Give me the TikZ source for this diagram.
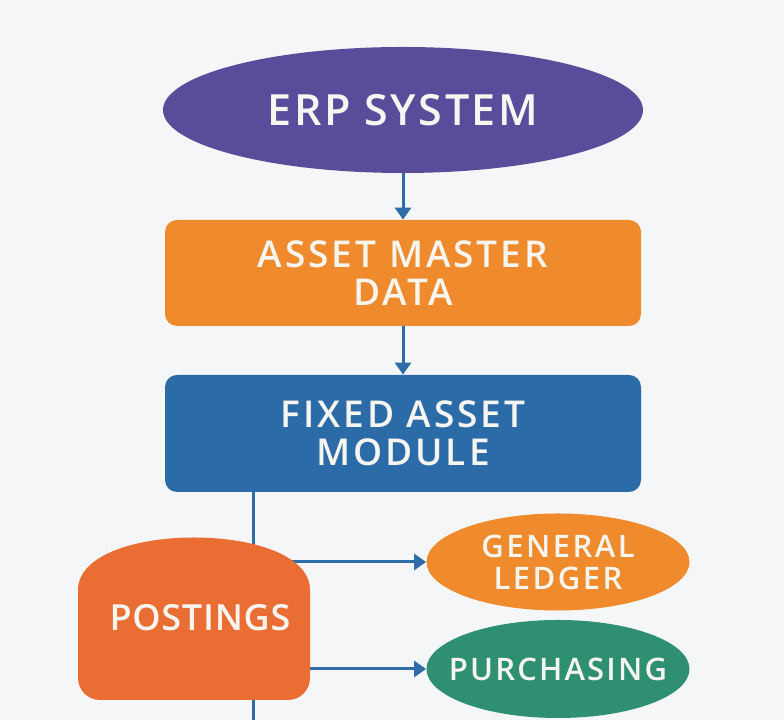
\documentclass[tikz,border=0pt]{standalone}
\usepackage{fontspec}
\setmainfont{Open Sans}
\newfontfamily\labelfont{Open Sans}[UprightFont={* Semibold}]
% corpo, interlinea, spaziatura
\newcommand\labelsize[3]{\labelfont\fontsize{#1}{#2}\selectfont\addfontfeature{LetterSpace=#3}}
\usetikzlibrary{shapes.geometric,arrows.meta}

\definecolor{bgcol}{HTML}{F5F6F7}
\definecolor{erpcol}{HTML}{5B4C9B}
\definecolor{orangecol}{HTML}{EF8B2C}
\definecolor{modcol}{HTML}{2B6BA8}
\definecolor{postcol}{HTML}{EA6E34}
\definecolor{greencol}{HTML}{2F8F72}
\definecolor{linecol}{HTML}{2E6DA8}
\definecolor{txtcol}{HTML}{F7F5F0}

\tikzset{
  box/.style={rectangle, rounded corners=6pt, minimum width=238pt, align=center,
    text=txtcol, font=\labelsize{18.5}{19}{8}},
  oval/.style={ellipse, inner xsep=-20pt, inner ysep=0pt, align=center, text=txtcol},
  wire/.style={draw=linecol, line width=1.5pt},
  link/.style={wire, -{Triangle[length=6pt,width=8pt]}},
}

\begin{document}
\begin{tikzpicture}[x=0.5pt, y=0.5pt]

% sfondo
\fill[bgcol] (0,0) rectangle (784,720);

% colonna centrale
\node[oval, fill=erpcol, minimum width=240pt, minimum height=63pt,
  font=\labelsize{21.5}{22}{6}] (erp) at (403,610) {ERP SYSTEM};
\node[box, fill=orangecol, minimum height=53pt] (master) at (403,447) {ASSET MASTER\\DATA};
\node[box, fill=modcol, minimum height=58.5pt] (module) at (403,286.5) {FIXED ASSET\\MODULE};

\draw[link] (erp.south) -- (master.north);
\draw[link] (master.south) -- (module.north);

% moduli collegati
\node[oval, fill=orangecol, minimum width=131.5pt, minimum height=48.5pt,
  font=\labelsize{15.5}{16}{8}] (ledger) at (558,158) {GENERAL\\LEDGER};
\node[oval, fill=greencol, minimum width=131.5pt, minimum height=49pt,
  font=\labelsize{15.5}{16}{7}] (purch) at (558,51) {PURCHASING};

% linea verticale e diramazioni
\coordinate (trunk) at (253,228);
\coordinate (tail) at (253,0);
\draw[wire] (trunk) -- (tail);
\draw[link] (trunk |- ledger.west) -- (ledger.west);
\draw[link] (trunk |- purch.west) -- (purch.west);

% registrazioni
\fill[postcol] (78,130) .. controls (78,200) and (310,200) .. (310,130)
  -- (310,42) arc[start angle=0, end angle=-90, radius=22]
  -- (100,20) arc[start angle=270, end angle=180, radius=22] -- cycle;
\node[text=txtcol, font=\labelsize{18}{19}{2}] (postings) at (200,102) {POSTINGS};

\end{tikzpicture}
\end{document}
